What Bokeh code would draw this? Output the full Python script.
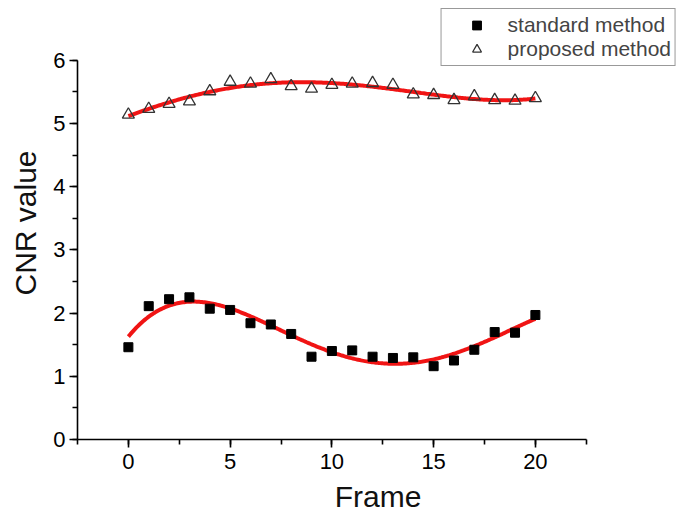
import numpy as np
from bokeh.plotting import figure
from bokeh.models import Range1d, SingleIntervalTicker, Legend, LegendItem
from bokeh.embed import file_html
from bokeh.resources import INLINE

frames = list(range(21))
standard = [1.46, 2.11, 2.22, 2.25, 2.07, 2.05, 1.84, 1.82, 1.67, 1.31, 1.40,
            1.41, 1.31, 1.29, 1.30, 1.16, 1.25, 1.42, 1.70, 1.69, 1.97]
proposed = [5.14, 5.23, 5.31, 5.35, 5.51, 5.66, 5.63, 5.70, 5.59, 5.55, 5.61,
            5.63, 5.64, 5.61, 5.46, 5.45, 5.37, 5.43, 5.37, 5.36, 5.40]
x_ticks_interval = 5
y_ticks_interval = 1
x_axis_span = (-2.5, 22.5)
y_axis_span = (0, 6)
series_names = ["standard method", "proposed method"]
fit_degree = 4

FONT = "Liberation Sans"

W, H = 682, 518
left, right, top, bottom = 77, 4, 6, 79
x_per = 20.35
y_per = 63.2
x_end = x_axis_span[0] + (W - left - right) / x_per
y_end = (H - top - bottom) / y_per

p = figure(width=W, height=H, x_range=Range1d(x_axis_span[0], x_end), y_range=Range1d(0, y_end),
           output_backend="svg", toolbar_location=None,
           min_border_left=left, min_border_right=right, min_border_top=top, min_border_bottom=bottom)
p.outline_line_color = None
p.xgrid.visible = False
p.ygrid.visible = False

# polynomial fit curves computed from the data
xs_fit = np.linspace(0, 20, 300)
fit_std = np.polyval(np.polyfit(frames, standard, fit_degree), xs_fit)
fit_prop = np.polyval(np.polyfit(frames, proposed, fit_degree), xs_fit)
p.line(xs_fit, fit_std, line_color="#f01414", line_width=4)
p.line(xs_fit, fit_prop, line_color="#f01414", line_width=4)

r1 = p.scatter(frames, standard, marker="square", size=9, fill_color="black", line_color="black")
r2 = p.scatter(frames, proposed, marker="triangle", size=12, fill_alpha=0,
               line_color="#333333", line_width=1.3)

for ax, interval, span in ((p.xaxis[0], x_ticks_interval, x_axis_span), (p.yaxis[0], y_ticks_interval, y_axis_span)):
    ax.bounds = span
    ax.ticker = SingleIntervalTicker(interval=interval, num_minor_ticks=2)
    ax.axis_line_color = "black"
    ax.axis_line_width = 1.6
    ax.major_tick_line_color = "black"
    ax.minor_tick_line_color = "black"
    ax.major_tick_line_width = 1.6
    ax.minor_tick_line_width = 1.6
    ax.major_tick_out = 8
    ax.major_tick_in = 0
    ax.minor_tick_out = 5
    ax.minor_tick_in = 0
    ax.major_label_text_font = FONT
    ax.major_label_text_font_size = "22px"
    ax.major_label_text_color = "black"
    ax.axis_label_text_font = FONT
    ax.axis_label_text_font_size = "30px"
    ax.axis_label_text_font_style = "normal"
    ax.axis_label_text_color = "#111111"

p.xaxis.axis_label = "Frame"
p.yaxis.axis_label = "CNR value"
p.xaxis.major_label_standoff = 6
p.xaxis.axis_label_standoff = 8
p.yaxis.major_label_standoff = 4
p.yaxis.axis_label_standoff = 8

legend = Legend(items=[LegendItem(label=series_names[0], renderers=[r1]),
                       LegendItem(label=series_names[1], renderers=[r2])],
                location="top_right", margin=2, padding=4, spacing=0,
                glyph_width=62, glyph_height=22, label_height=22, label_standoff=0,
                label_text_font=FONT, label_text_font_size="21px",
                border_line_color="#333333", border_line_width=1.5,
                background_fill_color="white", background_fill_alpha=1)
p.add_layout(legend)

open("out.html", "w").write(file_html(p, INLINE))
